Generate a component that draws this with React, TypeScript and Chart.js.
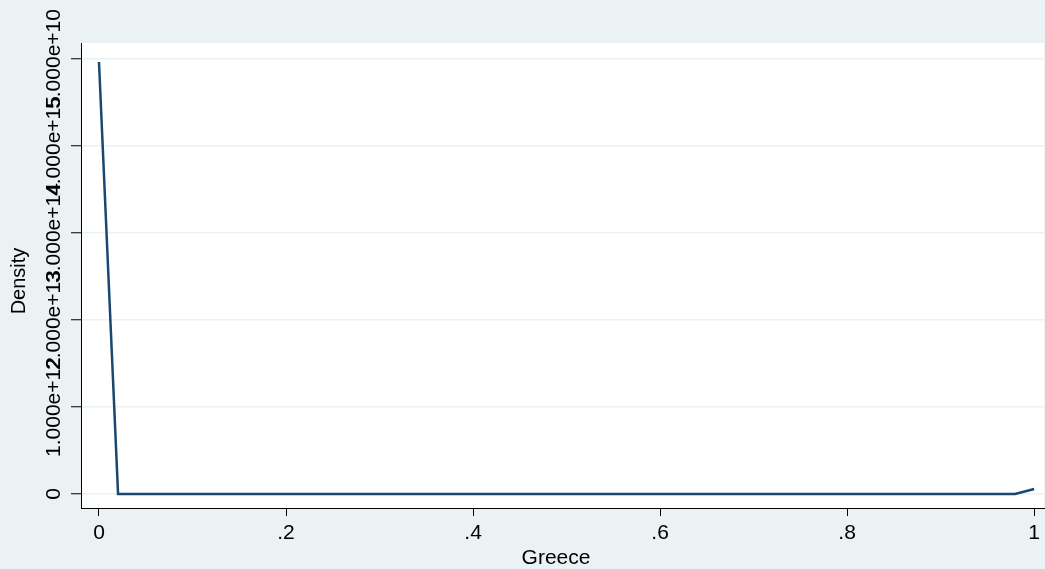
import React, { useEffect, useRef } from "react";
import { Chart, registerables } from "chart.js";

Chart.register(...registerables);

const xValues = [
  0, 0.0204, 0.0408, 0.0612, 0.0816, 0.102, 0.1224, 0.1429, 0.1633, 0.1837,
  0.2041, 0.2245, 0.2449, 0.2653, 0.2857, 0.3061, 0.3265, 0.3469, 0.3673, 0.3878,
  0.4082, 0.4286, 0.449, 0.4694, 0.4898, 0.5102, 0.5306, 0.551, 0.5714, 0.5918,
  0.6122, 0.6327, 0.6531, 0.6735, 0.6939, 0.7143, 0.7347, 0.7551, 0.7755, 0.7959,
  0.8163, 0.8367, 0.8571, 0.8776, 0.898, 0.9184, 0.9388, 0.9592, 0.9796, 1,
];
const densityValues = [
  4.965e12, 0, 0, 0, 0, 0, 0, 0, 0, 0,
  0, 0, 0, 0, 0, 0, 0, 0, 0, 0,
  0, 0, 0, 0, 0, 0, 0, 0, 0, 0,
  0, 0, 0, 0, 0, 0, 0, 0, 0, 0,
  0, 0, 0, 0, 0, 0, 0, 0, 0, 5.7e10,
];
const xTicks = [0, 0.2, 0.4, 0.6, 0.8, 1];
const xTickLabels = ["0", ".2", ".4", ".6", ".8", "1"];
const yTicks = [0, 1e12, 2e12, 3e12, 4e12, 5e12];
const yTickLabels = ["0", "1.000e+12", "2.000e+13", "3.000e+14", "4.000e+15", "5.000e+10"];
const xTitle = "Greece";
const yTitle = "Density";

const FONT = '"Liberation Sans", Arial, Helvetica, sans-serif';
const BG = "#EAF2F3";

export default function App() {
  const ref = useRef<HTMLCanvasElement | null>(null);
  useEffect(() => {
    if (!ref.current) return;
    const textPlugin = {
      id: "stataText",
      beforeDraw(chart: any) {
        const { ctx, chartArea } = chart;
        ctx.save();
        ctx.fillStyle = "#ffffff";
        ctx.fillRect(chartArea.left, chartArea.top, chartArea.right - chartArea.left, chartArea.bottom - chartArea.top);
        ctx.restore();
      },
      afterDraw(chart: any) {
        const { ctx } = chart;
        const ys = chart.scales.y;
        ctx.save();
        ctx.fillStyle = "#000000";
        ctx.font = `21px ${FONT}`;
        ctx.textAlign = "center";
        ctx.textBaseline = "alphabetic";
        yTicks.forEach((v, i) => {
          const py = ys.getPixelForValue(v);
          ctx.save();
          ctx.translate(60, py);
          ctx.rotate(-Math.PI / 2);
          ctx.fillText(yTickLabels[i], 0, 0);
          ctx.restore();
        });
        ctx.font = `20px ${FONT}`;
        ctx.save();
        ctx.translate(25, 281);
        ctx.rotate(-Math.PI / 2);
        ctx.fillText(yTitle, 0, 0);
        ctx.restore();
        ctx.font = `21px ${FONT}`;
        ctx.fillText(xTitle, 556, 564);
        ctx.restore();
      },
    };
    const chart = new Chart(ref.current, {
      type: "line",
      data: {
        datasets: [
          {
            data: xValues.map((x, i) => ({ x, y: densityValues[i] })),
            borderColor: "#1A476F",
            borderWidth: 2.5,
            pointRadius: 0,
            tension: 0,
            fill: false,
          },
        ],
      },
      options: {
        responsive: false,
        animation: false,
        devicePixelRatio: 1,
        layout: { padding: { top: 43, right: 0, left: 0, bottom: 0 } },
        plugins: { legend: { display: false }, tooltip: { enabled: false }, title: { display: false } },
        scales: {
          x: {
            type: "linear",
            min: -0.01923,
            max: 1.01068,
            afterBuildTicks: (s: any) => {
              s.ticks = xTicks.map((v) => ({ value: v }));
            },
            afterFit: (s: any) => {
              s.height = 61;
            },
            ticks: {
              autoSkip: false,
              maxRotation: 0,
              minRotation: 0,
              color: "#000000",
              padding: 5,
              font: { family: FONT, size: 21 },
              callback: (v: any) => {
                const idx = xTicks.findIndex((t) => Math.abs(t - Number(v)) < 1e-9);
                return idx >= 0 ? xTickLabels[idx] : "";
              },
            },
            grid: {
              drawOnChartArea: false,
              drawTicks: true,
              tickLength: 8,
              tickColor: "#000000",
              color: "#000000",
            },
            border: { display: true, color: "#000000", width: 1 },
          },
          y: {
            type: "linear",
            min: -0.1609e12,
            max: 5.1839e12,
            afterBuildTicks: (s: any) => {
              s.ticks = yTicks.map((v) => ({ value: v }));
            },
            afterFit: (s: any) => {
              s.width = 81;
            },
            ticks: {
              display: false,
            },
            grid: {
              drawOnChartArea: true,
              drawTicks: true,
              tickLength: 10,
              color: BG,
              lineWidth: 1.5,
              tickColor: "#000000",
              tickWidth: 1,
            },
            border: { display: true, color: "#000000", width: 1 },
          },
        },
      },
      plugins: [textPlugin],
    });
    return () => chart.destroy();
  }, []);
  return (
    <div style={{ position: "absolute", left: 0, top: 0, width: 1045, height: 569, background: BG }}>
      <canvas ref={ref} width={1045} height={569} style={{ width: 1045, height: 569, display: "block" }} />
    </div>
  );
}
